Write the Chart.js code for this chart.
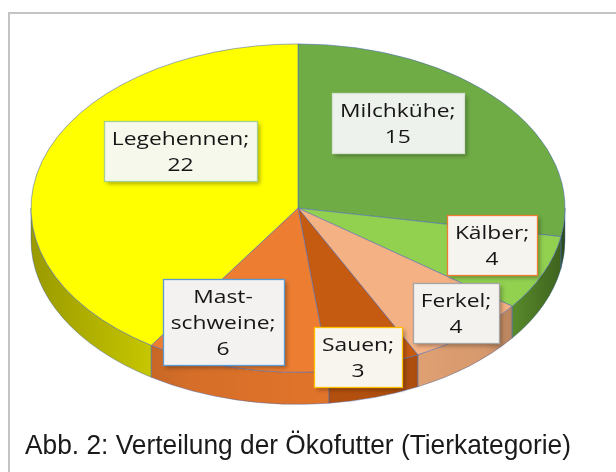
<!DOCTYPE html>
<html>
<head>
<meta charset="utf-8">
<script src="https://cdn.jsdelivr.net/npm/chart.js@4.4.1/dist/chart.umd.min.js"></script>
<style>
  html, body { margin: 0; padding: 0; background: #fff; }
  canvas { display: block; }
</style>
</head>
<body>
<canvas id="chart" width="616" height="472"></canvas>
<script>
// data
const categories = ['Milchkühe', 'Kälber', 'Ferkel', 'Sauen', 'Mastschweine', 'Legehennen'];
const labelLines = [['Milchkühe;'], ['Kälber;'], ['Ferkel;'], ['Sauen;'], ['Mast-', 'schweine;'], ['Legehennen;']];
const values = [15, 4, 4, 3, 6, 22];
const caption = 'Abb. 2: Verteilung der Ökofutter (Tierkategorie)';

// styles
const topColors = ['#6fac46', '#92d050', '#f4b183', '#c55a11', '#ed7d31', '#ffff00'];
const sideColors = ['#4f8a2d', '#6fae36', '#e8a676', '#b3500f', '#e3752b', '#e2e200'];
const boxBorders = ['#d8e2d2', '#ed7d31', '#a5a5a5', '#ffc000', '#5b9bd5', '#a9d18e'];
const boxFills = ['#eef2ec', '#f6f4ef', '#f4f2ef', '#f8f4ee', '#f4f2f0', '#f7f8ec'];
// label nudges relative to the slice anchor point
const labelNudge = [[-23, -22], [47, -2], [55, 29], [14, 54], [-38, 18], [36, -29]];

const squash = 0.615;   // vertical tilt of the pie
const depth = 32;       // wall thickness

/**
 * Fake 3D pie: draws the walls, squashes the top face and puts boxed labels on it
 */
const pie3d = {
  id: 'pie3d',
  beforeDraw(chart) {
    const ctx = chart.ctx;
    ctx.save();
    ctx.strokeStyle = '#c4c4c4';
    ctx.lineWidth = 2;
    ctx.beginPath();
    ctx.moveTo(9, chart.height);
    ctx.lineTo(9, 13);
    ctx.lineTo(chart.width, 13);
    ctx.stroke();
    ctx.restore();
  },
  beforeDatasetsDraw(chart) {
    const ctx = chart.ctx;
    const arcs = chart.getDatasetMeta(0).data;
    const { x: cx, y: cy, outerRadius: r } = arcs[0];
    const ry = r * squash;

    ctx.save();
    arcs.forEach((arc, i) => {
      const b1 = Math.max(arc.startAngle, 0);
      const b2 = Math.min(arc.endAngle, Math.PI);
      if (b2 <= b1) return;
      ctx.beginPath();
      ctx.ellipse(cx, cy, r, ry, 0, b1, b2);
      ctx.ellipse(cx, cy + depth, r, ry, 0, b2, b1, true);
      ctx.closePath();
      ctx.fillStyle = sideColors[i];
      ctx.fill();
    });

    // shading across the wall, darker towards the ends
    const g = ctx.createLinearGradient(cx - r, 0, cx + r, 0);
    g.addColorStop(0, 'rgba(0,0,0,0.32)');
    g.addColorStop(0.3, 'rgba(0,0,0,0.06)');
    g.addColorStop(0.6, 'rgba(0,0,0,0)');
    g.addColorStop(0.85, 'rgba(0,0,0,0.08)');
    g.addColorStop(1, 'rgba(0,0,0,0.45)');
    ctx.beginPath();
    ctx.ellipse(cx, cy, r, ry, 0, 0, Math.PI);
    ctx.ellipse(cx, cy + depth, r, ry, 0, Math.PI, 0, true);
    ctx.closePath();
    ctx.fillStyle = g;
    ctx.fill();

    ctx.strokeStyle = 'rgba(70,100,170,0.55)';
    ctx.lineWidth = 0.8;
    arcs.forEach((arc) => {
      const b1 = Math.max(arc.startAngle, 0);
      const b2 = Math.min(arc.endAngle, Math.PI);
      if (b2 <= b1) return;
      ctx.beginPath();
      ctx.ellipse(cx, cy, r, ry, 0, b1, b2);
      ctx.ellipse(cx, cy + depth, r, ry, 0, b2, b1, true);
      ctx.closePath();
      ctx.stroke();
    });
    ctx.restore();

    // top face is the normal pie, squashed
    ctx.save();
    ctx.translate(cx, cy);
    ctx.scale(1, squash);
    ctx.translate(-cx, -cy);
  },
  afterDatasetsDraw(chart) {
    const ctx = chart.ctx;
    ctx.restore();

    const arcs = chart.getDatasetMeta(0).data;
    const stretch = 1.2;
    const lineH = 26;
    ctx.save();
    ctx.font = '19px "Open Sans"';
    ctx.textAlign = 'center';
    ctx.textBaseline = 'middle';
    arcs.forEach((arc, i) => {
      const { x: cx, y: cy, outerRadius: r } = arc;
      const mid = (arc.startAngle + arc.endAngle) / 2;
      const ax = cx + 0.6 * r * Math.cos(mid) + labelNudge[i][0];
      const ay = cy + 0.6 * r * squash * Math.sin(mid) + labelNudge[i][1];
      const lines = labelLines[i].concat([String(values[i])]);
      const tw = Math.max(...lines.map(t => ctx.measureText(t).width)) * stretch;
      const w = Math.round(tw + 16);
      const h = lines.length * lineH + 8;
      const bx = Math.round(ax - w / 2) + 0.5;
      const by = Math.round(ay - h / 2) + 0.5;

      ctx.save();
      ctx.shadowColor = 'rgba(0,0,0,0.3)';
      ctx.shadowBlur = 4;
      ctx.shadowOffsetX = 2;
      ctx.shadowOffsetY = 2;
      ctx.fillStyle = boxFills[i];
      ctx.fillRect(bx, by, w, h);
      ctx.restore();
      ctx.strokeStyle = boxBorders[i];
      ctx.lineWidth = 1.3;
      ctx.strokeRect(bx, by, w, h);

      ctx.fillStyle = '#161616';
      lines.forEach((t, j) => {
        const ty = by + 4 + lineH * (j + 0.5) + 1;
        ctx.save();
        ctx.translate(ax, ty);
        ctx.scale(stretch, 1);
        ctx.fillText(t, 0, 0);
        ctx.restore();
      });
    });
    ctx.restore();
  }
};

new Chart(document.getElementById('chart'), {
  type: 'pie',
  data: {
    labels: categories,
    datasets: [{
      data: values,
      backgroundColor: topColors,
      borderColor: 'rgba(80,110,180,0.7)',
      borderWidth: 1,
      clip: 400,
    }],
  },
  options: {
    responsive: false,
    animation: false,
    radius: 267,
    layout: {
      padding: { left: 25, right: 45, top: 2, bottom: 0 },
    },
    plugins: {
      legend: { display: false },
      tooltip: { enabled: false },
      title: {
        display: true,
        text: caption,
        position: 'bottom',
        align: 'start',
        color: '#1a1a1a',
        font: { family: '"Liberation Sans", Arial, sans-serif', size: 27.3, weight: 'normal' },
        padding: { top: 16, bottom: 9 },
      },
    },
  },
  plugins: [pie3d],
});
</script>
</body>
</html>
